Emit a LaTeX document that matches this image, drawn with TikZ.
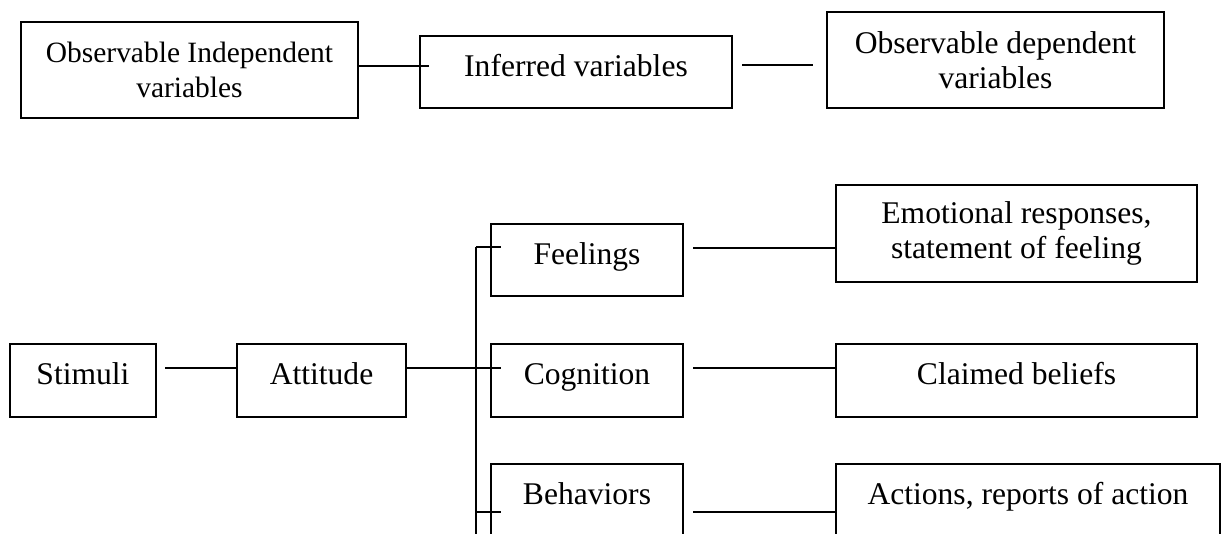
\documentclass[tikz,border=0pt]{standalone}
\usepackage{fontspec}
\setmainfont{Liberation Serif}
\usepackage{tikz}
\newcommand{\pxu}{0.38pt}

\begin{document}
\begin{tikzpicture}[x=0.38pt,y=-0.38pt]
\tikzstyle{every node}+=[inner sep=0pt]
\tikzstyle{box}=[draw=black,line width=0.8pt,align=center,font=\fontsize{12}{13.2}\selectfont]
\tikzstyle{oneline}=[text height=9pt,text depth=5.7pt]
\tikzstyle{link}=[black,line width=0.8pt]
\useasboundingbox (0,0) rectangle (1221,533);
\clip (0,0) rectangle (1221,533);
\node [box,font=\fontsize{11.2}{13}\selectfont,minimum width=337*\pxu,minimum height=96*\pxu] (obsind) at (189.5,70) {Observable Independent\\variables};
\node [box,oneline,minimum width=312*\pxu,minimum height=72*\pxu] (inferred) at (576,72) {Inferred variables};
\node [box,minimum width=337*\pxu,minimum height=96*\pxu] (depvar) at (995.5,60) {Observable dependent\\variables};
\draw [link] ([yshift=4*\pxu]obsind.east) -- ([xshift=10*\pxu,yshift=6*\pxu]inferred.west);
\draw [link] ([xshift=9*\pxu,yshift=7*\pxu]inferred.east) -- ([xshift=-13*\pxu,yshift=-5*\pxu]depvar.west);
\node [box,oneline,minimum width=146*\pxu,minimum height=73*\pxu] (stimuli) at (83,380.5) {Stimuli};
\node [box,oneline,minimum width=169*\pxu,minimum height=73*\pxu] (attitude) at (321.5,380.5) {Attitude};
\node [box,oneline,minimum width=192*\pxu,minimum height=72*\pxu] (feelings) at (587,260) {Feelings};
\node [box,oneline,minimum width=192*\pxu,minimum height=73*\pxu] (cognition) at (587,380.5) {Cognition};
\node [box,oneline,minimum width=192*\pxu,minimum height=73*\pxu] (behaviors) at (587,500.5) {Behaviors};
\node [box,minimum width=361*\pxu,minimum height=97*\pxu] (emotional) at (1016.5,233.5) {Emotional responses,\\statement of feeling};
\node [box,oneline,minimum width=361*\pxu,minimum height=73*\pxu] (claimed) at (1016.5,380.5) {Claimed beliefs};
\node [box,oneline,minimum width=384*\pxu,minimum height=73*\pxu] (actions) at (1028,500.5) {Actions, reports of action};
\coordinate (trunktop) at ([xshift=-14*\pxu,yshift=13*\pxu]feelings.west);
\coordinate (trunkend) at ([xshift=-14*\pxu]behaviors.south west);
\draw [link] ([xshift=8*\pxu,yshift=12.5*\pxu]stimuli.east) -- ([yshift=12.5*\pxu]attitude.west);
\draw [link] ([yshift=12.5*\pxu]attitude.east) -- ([xshift=11*\pxu,yshift=12.5*\pxu]cognition.west);
\draw [link] (trunktop) -- (trunkend);
\draw [link] (trunktop) -- ([xshift=11*\pxu,yshift=13*\pxu]feelings.west);
\draw [link] ([xshift=-14*\pxu,yshift=-11.5*\pxu]behaviors.west) -- ([xshift=11*\pxu,yshift=-11.5*\pxu]behaviors.west);
\draw [link] ([xshift=9*\pxu,yshift=12*\pxu]feelings.east) -- ([yshift=-14.5*\pxu]emotional.west);
\draw [link] ([xshift=9*\pxu,yshift=12.5*\pxu]cognition.east) -- ([yshift=12.5*\pxu]claimed.west);
\draw [link] ([xshift=9*\pxu,yshift=-11.5*\pxu]behaviors.east) -- ([yshift=-11.5*\pxu]actions.west);
\end{tikzpicture}
\end{document}
